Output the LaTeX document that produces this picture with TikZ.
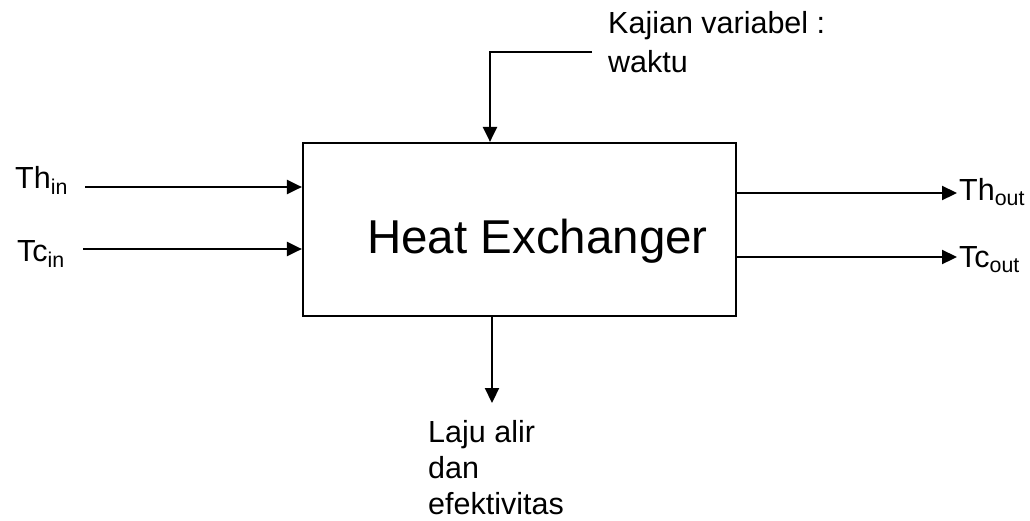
\documentclass[tikz,border=0pt]{standalone}
\usepackage{fontspec}
\setmainfont{Liberation Sans}
\usetikzlibrary{arrows.meta}
\begin{document}
\begin{tikzpicture}[x=1pt,y=-1pt,
  lbl/.style={inner sep=0pt,anchor=base west,font=\fontsize{30.5}{36}\selectfont,align=left},
  arr/.style={line width=2.2pt,-{Triangle[length=15pt,width=14pt]}},
  boxst/.style={draw,line width=2.2pt,rectangle,inner sep=0pt,minimum width=433pt,minimum height=173pt}]
\useasboundingbox (0,0) rectangle (1030,520);
\node[boxst] (hx) at (519.5,229.5) {};
\node[inner sep=0pt,anchor=base west,font=\fontsize{47.5}{50}\selectfont] (hxl) at (367,253) {Heat Exchanger};
\node[lbl] (thin) at (15,188) {Th\textsubscript{in}};
\node[lbl] (tcin) at (17,261) {Tc\textsubscript{in}};
\node[lbl] (thout) at (959,200) {Th\textsubscript{out}};
\node[lbl] (tcout) at (959,267) {Tc\textsubscript{out}};
\node[lbl,font=\fontsize{30.5}{39}\selectfont] (kaj) at (608,72) {Kajian variabel :\\waktu};
\node[lbl] (laju) at (428,514) {Laju alir\\dan\\efektivitas};
\coordinate (thinS) at (85,187);
\coordinate (tcinS) at (83,249);
\coordinate (thoutE) at (957,193);
\coordinate (tcoutE) at (957,257);
\coordinate (topS) at (592,52);
\coordinate (topcol) at (490,0);
\coordinate (botE) at (492,403);
\draw[arr] (thinS) -- (thinS -| hx.west);
\draw[arr] (tcinS) -- (tcinS -| hx.west);
\draw[arr] (thoutE -| hx.east) -- (thoutE);
\draw[arr] (tcoutE -| hx.east) -- (tcoutE);
\draw[arr] (topS) -| (topcol |- hx.north);
\draw[arr] (botE |- hx.south) -- (botE);
\end{tikzpicture}
\end{document}
